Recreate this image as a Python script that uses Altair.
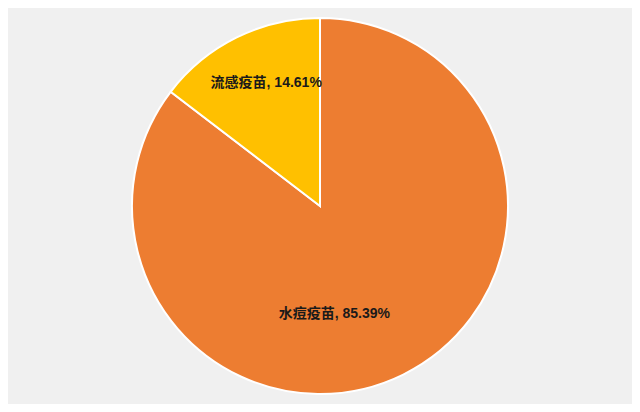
import altair as alt
import pandas as pd

categories = ["水痘疫苗", "流感疫苗"]
shares = [85.39, 14.61]
colors = ["#ED7D31", "#FFC000"]

labels = [f"{c}, {v:.2f}%" for c, v in zip(categories, shares)]
df = pd.DataFrame({
    "cat": categories,
    "share": shares,
    "order": [0, 1],
    "lab_o": [labels[0], ""],
    "lab_y": ["", labels[1]],
})

base = alt.Chart(df).encode(
    theta=alt.Theta("share:Q", stack=True),
    order=alt.Order("order:Q"),
)

pie = base.mark_arc(stroke="white", strokeWidth=2, outerRadius=188).encode(
    color=alt.Color("cat:N", scale=alt.Scale(domain=categories, range=colors), legend=None)
)

font = "Liberation Sans, Noto Sans CJK SC, sans-serif"
lab_orange = base.mark_text(
    radius=109, dx=-34, dy=10, fontSize=14, fontWeight="bold", font=font, color="#1a1a1a"
).encode(text="lab_o:N")
lab_yellow = base.mark_text(
    radius=135, dx=6, dy=-2, fontSize=14, fontWeight="bold", font=font, color="#1a1a1a"
).encode(text="lab_y:N")

chart = (pie + lab_orange + lab_yellow).properties(
    width=624, height=396,
    autosize=alt.AutoSizeParams(type="fit", contains="padding"),
    padding=0,
    background="#F0F0F0",
).configure_view(stroke="#A8A8A8", strokeWidth=1.5)

chart.save("out.html", embed_options={"renderer": "svg", "actions": False})
